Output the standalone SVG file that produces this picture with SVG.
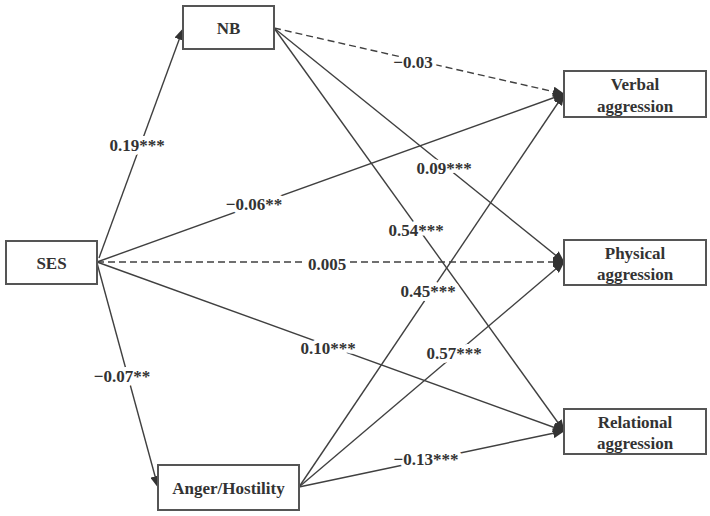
<svg xmlns="http://www.w3.org/2000/svg" width="710" height="516" viewBox="0 0 710 516">
<defs>
<marker id="arr" markerUnits="userSpaceOnUse" markerWidth="12" markerHeight="10" refX="11" refY="5" orient="auto">
<path d="M0,0 L12,5 L0,10 Z" fill="#333"/>
</marker>
<style>
.box{fill:#fff;stroke:#555;stroke-width:2}
.t{font-weight:bold;font-size:17px;fill:#333;text-anchor:middle}
.lab{font-weight:bold;font-size:17px;fill:#333;text-anchor:middle;paint-order:stroke;stroke:#fff;stroke-width:8px;stroke-linejoin:round}
.c{fill:none;stroke:#404040;stroke-width:1.4;marker-end:url(#arr)}
.d{stroke-dasharray:7 4}
</style>
</defs>
<rect width="710" height="516" fill="#fff"/>
<g id="connectors">
<line class="c" x1="99" y1="258" x2="183" y2="29"/>
<line class="c" x1="97" y1="262" x2="564" y2="94"/>
<line class="c d" x1="97" y1="262" x2="564" y2="262"/>
<line class="c" x1="97" y1="262" x2="564" y2="431"/>
<line class="c" x1="97" y1="263" x2="158" y2="487"/>
<line class="c d" x1="274" y1="28" x2="564" y2="94"/>
<line class="c" x1="274" y1="28" x2="564" y2="262"/>
<line class="c" x1="274" y1="28" x2="564" y2="431"/>
<line class="c" x1="299" y1="487" x2="564" y2="94"/>
<line class="c" x1="299" y1="487" x2="564" y2="262"/>
<line class="c" x1="299" y1="487" x2="564" y2="431"/>
</g>
<g id="labels" font-family="Liberation Serif, Times New Roman, serif">
<text class="lab" x="137" y="151">0.19***</text>
<text class="lab" x="254" y="210">−0.06**</text>
<text class="lab" x="413" y="68">−0.03</text>
<text class="lab" x="444" y="174">0.09***</text>
<text class="lab" x="416" y="236">0.54***</text>
<text class="lab" x="327" y="270">0.005</text>
<text class="lab" x="328" y="354">0.10***</text>
<text class="lab" x="122" y="382">−0.07**</text>
<text class="lab" x="428" y="297">0.45***</text>
<text class="lab" x="454" y="359">0.57***</text>
<text class="lab" x="426" y="465">−0.13***</text>
</g>
<g font-family="Liberation Serif, Times New Roman, serif">
<g id="NB"><rect class="box" x="183" y="6" width="91" height="43"/><text class="t" x="228.5" y="33.5">NB</text></g>
<g id="SES"><rect class="box" x="6" y="241" width="91" height="43"/><text class="t" x="51.5" y="268.5">SES</text></g>
<g id="AngerHostility"><rect class="box" x="158" y="465" width="141" height="45"/><text class="t" x="228.5" y="493.5">Anger/Hostility</text></g>
<g id="Verbal"><rect class="box" x="564" y="71" width="142" height="46"/><text class="t" x="635" y="89.5">Verbal</text><text class="t" x="635" y="111.5">aggression</text></g>
<g id="Physical"><rect class="box" x="564" y="240" width="142" height="45"/><text class="t" x="635" y="258.5">Physical</text><text class="t" x="635" y="279.5">aggression</text></g>
<g id="Relational"><rect class="box" x="564" y="409" width="142" height="45"/><text class="t" x="635" y="427.5">Relational</text><text class="t" x="635" y="448.5">aggression</text></g>
</g>
</svg>
